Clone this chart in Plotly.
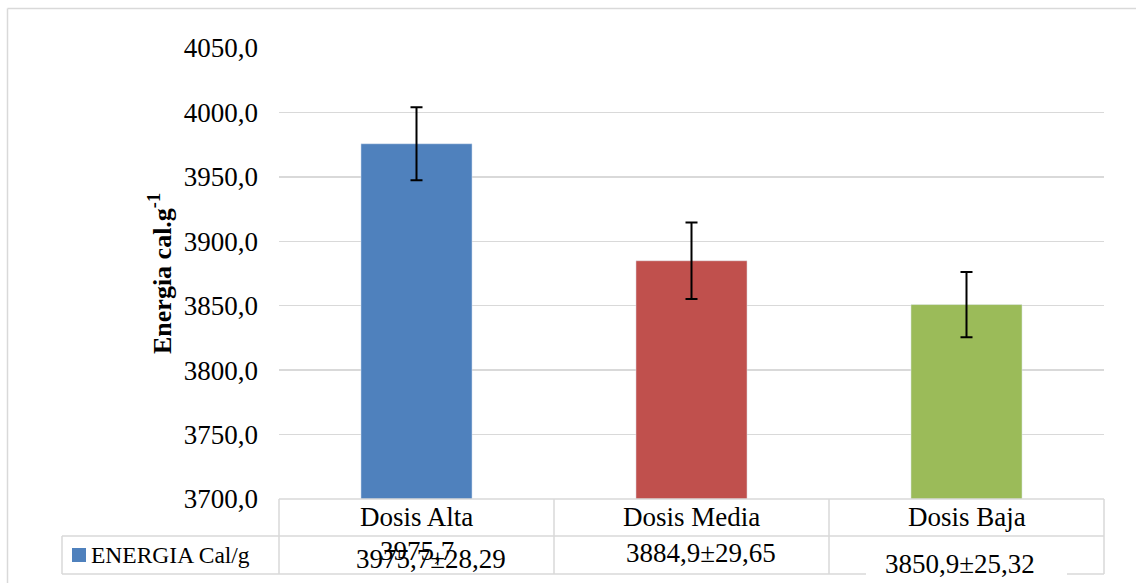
import plotly.graph_objects as go

categories = ["Dosis Alta", "Dosis Media", "Dosis Baja"]
energy_mean = [3975.7, 3884.9, 3850.9]
energy_sd = [28.29, 29.65, 25.32]
bar_colors = ["#4F81BD", "#C0504D", "#9BBB59"]
series_name = "ENERGIA Cal/g"
y_ticks = [3700, 3750, 3800, 3850, 3900, 3950, 4000, 4050]

W, H = 1136, 583
L, R, T, B = 279, 1104, 48, 499  # plot area in page pixels
PW, PH = R - L, B - T
FONT = "Liberation Serif"


def px(x):
    return (x - L) / PW


def py(y):
    return (B - y) / PH


def fmt(v, d):
    return f"{v:.{d}f}".replace(".", ",")


fig = go.Figure()
fig.add_trace(go.Bar(
    x=categories, y=energy_mean, marker_color=bar_colors, width=0.404,
    error_y=dict(type="data", array=energy_sd, color="black", thickness=2, width=6),
    showlegend=False, hoverinfo="skip",
))

line = dict(color="#d9d9d9", width=1.5)
shapes = []
# outer chart border
shapes.append(dict(type="line", xref="paper", yref="paper", x0=px(7.5), x1=px(1150), y0=py(8.5), y1=py(8.5), line=line))
shapes.append(dict(type="line", xref="paper", yref="paper", x0=px(7.5), x1=px(7.5), y0=py(8.5), y1=py(600), line=line))
# data table
row_top, row_mid, row_bot = 499, 536, 574
col_x = [279, 554, 829, 1104]
shapes.append(dict(type="line", xref="paper", yref="paper", x0=px(279), x1=px(1104), y0=py(row_top), y1=py(row_top), line=line))
shapes.append(dict(type="line", xref="paper", yref="paper", x0=px(62), x1=px(1104), y0=py(row_mid), y1=py(row_mid), line=line))
shapes.append(dict(type="line", xref="paper", yref="paper", x0=px(62), x1=px(1104), y0=py(row_bot), y1=py(row_bot), line=line))
shapes.append(dict(type="line", xref="paper", yref="paper", x0=px(62), x1=px(62), y0=py(row_mid), y1=py(row_bot), line=line))
for cx in col_x:
    shapes.append(dict(type="line", xref="paper", yref="paper", x0=px(cx), x1=px(cx), y0=py(row_top), y1=py(row_bot), line=line))
# white box behind the last value label
shapes.append(dict(type="rect", xref="paper", yref="paper", x0=px(866), x1=px(1067), y0=py(545), y1=py(590),
                   fillcolor="white", line=dict(width=0)))
# legend key square
shapes.append(dict(type="rect", xref="paper", yref="paper", x0=px(72), x1=px(86), y0=py(548), y1=py(562),
                   fillcolor=bar_colors[0], line=dict(width=0)))

annotations = []
for c in categories:
    annotations.append(dict(x=c, xref="x", y=py(517), yref="paper", text=c, showarrow=False,
                            font=dict(family=FONT, size=27, color="black"), xanchor="center", yanchor="middle"))
# overlapping duplicate of the first value, as in the original
annotations.append(dict(x=categories[0], xref="x", y=py(551), yref="paper", text=fmt(energy_mean[0], 1),
                        showarrow=False, font=dict(family=FONT, size=27, color="black"),
                        xanchor="center", yanchor="middle"))
val_pos = [(431, 559), (701, 553), (960, 564)]
for (m, s), (vx, vy) in zip(zip(energy_mean, energy_sd), val_pos):
    annotations.append(dict(x=px(vx), xref="paper", y=py(vy), yref="paper",
                            text=f"{fmt(m, 1)}±{fmt(s, 2)}", showarrow=False,
                            font=dict(family=FONT, size=27, color="black"), xanchor="center", yanchor="middle"))
annotations.append(dict(x=px(89), xref="paper", y=py(555), yref="paper", text=series_name, showarrow=False,
                        font=dict(family=FONT, size=23.5, color="black"), xanchor="left", yanchor="middle"))
annotations.append(dict(x=px(160), xref="paper", y=py(274), yref="paper", text="<b>Energia cal.g<sup>-1</sup></b>",
                        showarrow=False, textangle=-90, font=dict(family=FONT, size=26, color="black"),
                        xanchor="center", yanchor="middle"))

fig.update_layout(
    width=W, height=H,
    margin=dict(l=L, r=W - R, t=T, b=H - B, pad=0),
    paper_bgcolor="white", plot_bgcolor="white",
    separators=",.",
    font=dict(family=FONT, size=27, color="black"),
    shapes=shapes, annotations=annotations,
    hovermode=False,
    xaxis=dict(showticklabels=False, showgrid=False, zeroline=False, showline=False, fixedrange=True),
    yaxis=dict(range=[3700, 4050], tickvals=y_ticks, ticktext=[fmt(v, 1) for v in y_ticks],
               showgrid=True, gridcolor="#d9d9d9", gridwidth=1.5, zeroline=False, showline=False,
               ticks="", ticklabelstandoff=20, tickfont=dict(family=FONT, size=27, color="black"),
               fixedrange=True),
)

fig.write_html(
    "out.html",
    config={"displayModeBar": False, "staticPlot": True},
    post_script="document.body.style.margin='0';document.body.style.overflow='hidden';",
)
